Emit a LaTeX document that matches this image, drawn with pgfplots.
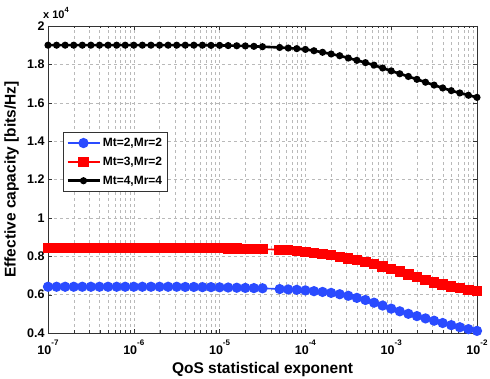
\documentclass[border=0pt]{standalone}
\usepackage{fontspec}
\setmainfont{Liberation Sans}
\usepackage{pgfplots}
\usepackage{pgfplotstable}
\pgfplotsset{compat=1.18}
\definecolor{mblue}{HTML}{2A4BFF}
\definecolor{mred}{HTML}{FF0000}

% capacity in units of 1e4 bits/Hz; columns: theta, Mt2Mr2, Mt3Mr2, Mt4Mr4
\pgfplotstableread{
x b r k
1e-7 0.641 0.842 1.900
1.2589e-7 0.641 0.842 1.900
1.5849e-7 0.641 0.842 1.900
1.9953e-7 0.641 0.842 1.900
2.5119e-7 0.641 0.842 1.900
3.1623e-7 0.641 0.842 1.900
3.9811e-7 0.641 0.842 1.900
5.0119e-7 0.641 0.842 1.900
6.3096e-7 0.641 0.842 1.900
7.9433e-7 0.641 0.842 1.900
1e-6 0.641 0.842 1.900
1.2589e-6 0.641 0.842 1.900
1.5849e-6 0.641 0.842 1.900
1.9953e-6 0.641 0.842 1.900
2.5119e-6 0.641 0.842 1.900
3.1623e-6 0.641 0.842 1.900
3.9811e-6 0.640 0.842 1.900
5.0119e-6 0.640 0.842 1.900
6.3096e-6 0.639 0.842 1.900
7.9433e-6 0.639 0.842 1.899
1e-5 0.638 0.842 1.899
1.2589e-5 0.637 0.841 1.898
1.5849e-5 0.636 0.840 1.897
1.9953e-5 0.635 0.839 1.896
2.5119e-5 0.634 0.838 1.894
3.1623e-5 0.633 0.837 1.892
5.0119e-5 0.629 0.834 1.888
6.3096e-5 0.627 0.831 1.885
7.9433e-5 0.625 0.827 1.882
1e-4 0.622 0.822 1.878
1.2589e-4 0.618 0.817 1.871
1.5849e-4 0.614 0.812 1.863
1.9953e-4 0.609 0.805 1.854
2.5119e-4 0.602 0.797 1.845
3.1623e-4 0.594 0.788 1.833
3.9811e-4 0.583 0.779 1.821
5.0119e-4 0.572 0.769 1.809
6.3096e-4 0.558 0.759 1.796
7.9433e-4 0.543 0.747 1.781
1e-3 0.527 0.734 1.766
1.2589e-3 0.513 0.720 1.751
1.5849e-3 0.500 0.705 1.737
1.9953e-3 0.488 0.691 1.722
2.5119e-3 0.476 0.677 1.707
3.1623e-3 0.464 0.664 1.692
3.9811e-3 0.452 0.652 1.677
5.0119e-3 0.441 0.642 1.663
6.3096e-3 0.430 0.633 1.651
7.9433e-3 0.420 0.625 1.639
1e-2 0.411 0.618 1.628
}\captab

\newcommand{\decade}[1]{10\raisebox{8.5pt}{\fontsize{8}{9}\selectfont\bfseries #1}}

\begin{document}
\begin{tikzpicture}
\begin{semilogxaxis}[
  scale only axis,
  width=429pt, height=307pt,
  xmin=1e-7, xmax=1e-2,
  ymin=0.4, ymax=2,
  ytick={0.4,0.6,...,2.01},
  xtick={1e-7,1e-6,1e-5,1e-4,1e-3,1e-2},
  xticklabels={\decade{-7},\decade{-6},\decade{-5},\decade{-4},\decade{-3},\decade{-2}},
  /pgf/number format/assume math mode=true,
  tick label style={font=\fontsize{12.5}{14}\selectfont\bfseries},
  xticklabel style={anchor=base, yshift=-21.5pt},
  xlabel={QoS statistical exponent},
  ylabel={Effective capacity [bits/Hz]},
  label style={font=\fontsize{15.5}{17}\selectfont\bfseries},
  xlabel style={at={(axis description cs:0.5,-0.1325)}, anchor=base},
  ylabel style={at={(axis description cs:-0.085,0.5)}, anchor=center},
  grid=both,
  major grid style={gray!55, dash pattern=on 3pt off 3pt},
  minor grid style={gray!55, dash pattern=on 3pt off 3pt},
  axis line style={black!80},
  tick style={black!80},
  major tick length=4pt, minor tick length=2.5pt,
  legend style={at={(rel axis cs:0.035,0.655)}, anchor=north west,
    draw=black!80, fill=white, font=\fontsize{12}{13}\selectfont\bfseries,
    row sep=5pt, inner xsep=3pt, inner ysep=4pt},
  legend cell align=left,
  legend image code/.code={
    \draw[#1, mark repeat=2, mark phase=2] plot coordinates {(0pt,0pt) (16pt,0pt) (32pt,0pt)};},
  clip=false,
]
\addplot[mblue, line width=1.6pt, mark=*, mark size=4.3pt, mark options={solid}] table[x=x, y=b] {\captab};
\addlegendentry{Mt=2,Mr=2}
\addplot[mred, line width=1.6pt, mark=square*, mark size=4.4pt, mark options={solid}] table[x=x, y=r] {\captab};
\addlegendentry{Mt=3,Mr=2}
\addplot[black, line width=2.6pt, mark=*, mark size=2.2pt, mark options={solid}] table[x=x, y=k] {\captab};
\addlegendentry{Mt=4,Mr=4}
\node[anchor=base west, font=\fontsize{11}{12}\selectfont\bfseries, inner sep=0pt, xshift=-5pt, yshift=7.5pt] at (rel axis cs:0,1) {x 10\raisebox{5.5pt}{\fontsize{7.5}{8}\selectfont 4}};
\end{semilogxaxis}
\pgfresetboundingbox
\path[use as bounding box] ([shift={(-48pt,-45.7pt)}]current axis.south west) rectangle ([shift={(13pt,26pt)}]current axis.north east);
\end{tikzpicture}
\end{document}
